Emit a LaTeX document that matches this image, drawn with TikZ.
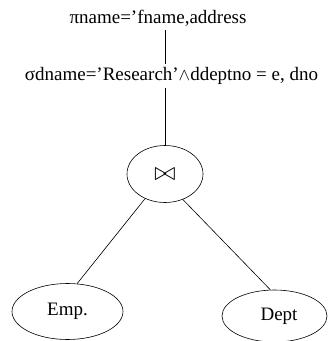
\documentclass[tikz,border=0pt]{standalone}
\usepackage{fontspec}
\setmainfont{Liberation Serif}
\usetikzlibrary{shapes.geometric}
\begin{document}
\begin{tikzpicture}[x=1pt,y=-1pt,
  every node/.style={font=\fontsize{19}{22}\selectfont},
  rel/.style={draw, ellipse, inner sep=0pt, line width=0.6pt},
  lbl/.style={inner sep=0pt},
  edge/.style={line width=0.6pt}]
\useasboundingbox (0,0) rectangle (328,341);
\node[lbl] (proj) at (158,18) {πname='fname,address};
\node[lbl] (sel) at (171.5,76) {σdname='Research'$\wedge$ddeptno = e, dno};
\node[rel, minimum width=76pt, minimum height=57pt] (join) at (165,174) {\scalebox{1.5}{$\bowtie$}};
\node[rel, minimum width=111pt, minimum height=56pt] (emp) at (67.5,311.5) {Emp.\hspace{4pt}};
\node[rel, minimum width=105pt, minimum height=52pt] (dept) at (274.5,316) {\hspace{9pt}Dept};
\draw[edge] ([yshift=-4pt]proj.south -| join.north) -- ([yshift=3pt]sel.north -| join.north);
\draw[edge] ([yshift=-3pt]sel.south -| join.north) -- (join.north);
\draw[edge] (join.231) -- (emp.71);
\draw[edge] (join.305) -- (dept.99);
\end{tikzpicture}
\end{document}
